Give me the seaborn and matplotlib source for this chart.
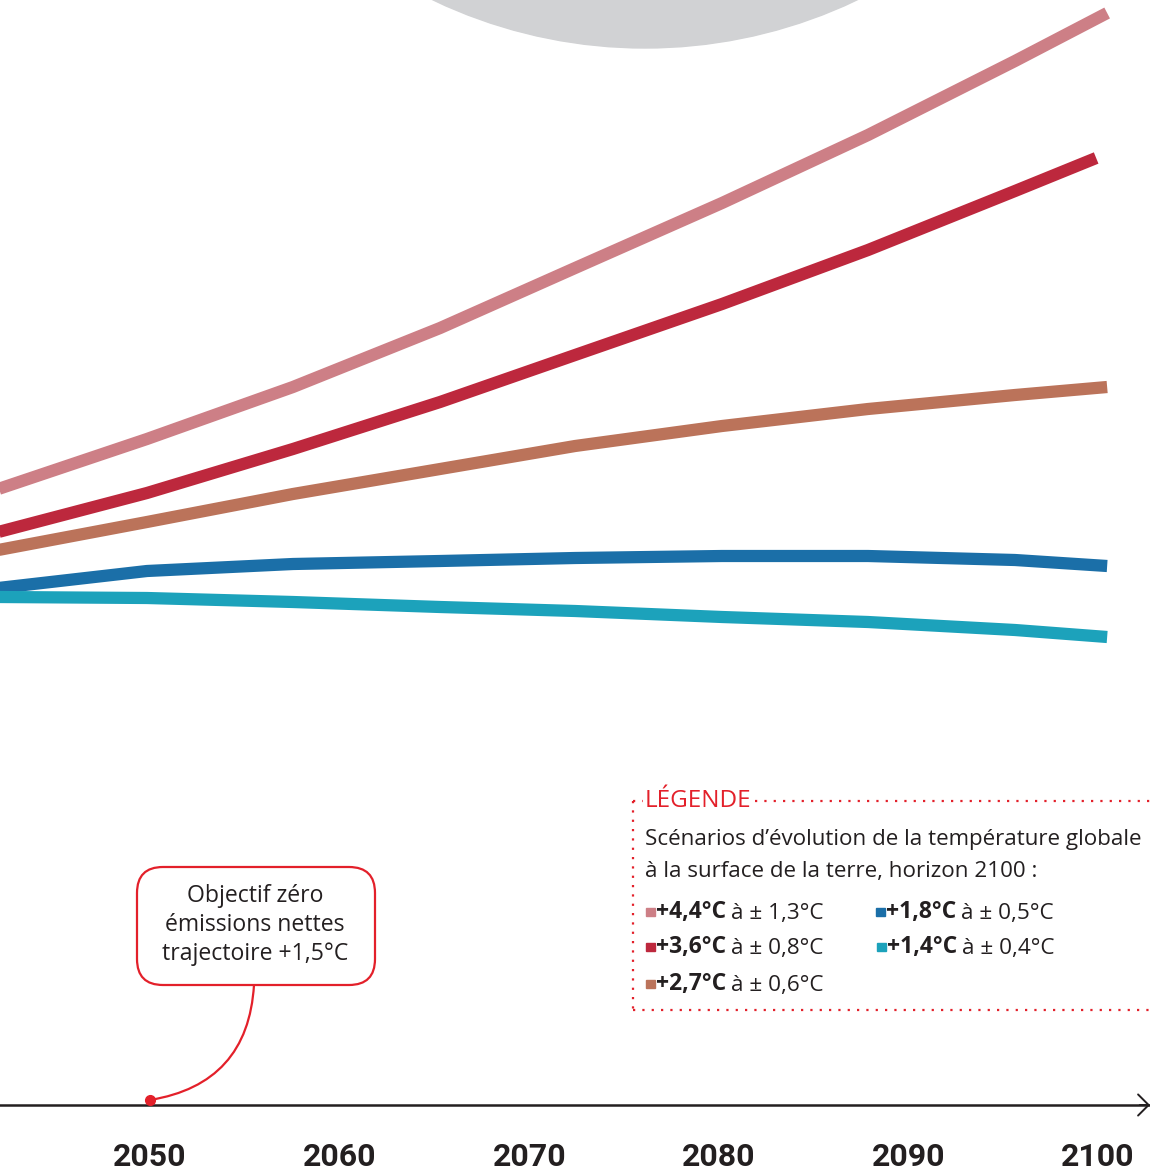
import numpy as np
import pandas as pd
import matplotlib
matplotlib.use("Agg")
import matplotlib.pyplot as plt
import seaborn as sns
from matplotlib.patches import Circle, FancyBboxPatch, Rectangle
from matplotlib.lines import Line2D
from matplotlib.transforms import Affine2D

# values: year, height of the curve above the time axis (arbitrary units)
years = [2042.0, 2049.84, 2057.54, 2065.30, 2072.42, 2080.17, 2087.87, 2095.62, 2100.48]
pink_vals = [6.16, 6.66, 7.18, 7.77, 8.37, 9.02, 9.70, 10.44, 10.92]
red_years = [2042.0, 2049.84, 2057.54, 2065.30, 2072.42, 2080.17, 2087.87, 2095.62, 2099.90]
red_vals = [5.73, 6.12, 6.56, 7.03, 7.50, 8.01, 8.55, 9.14, 9.47]
brown_vals = [5.55, 5.83, 6.11, 6.36, 6.59, 6.79, 6.96, 7.10, 7.18]
blue_vals = [5.17, 5.34, 5.41, 5.44, 5.47, 5.49, 5.49, 5.45, 5.39]
cyan_vals = [5.08, 5.07, 5.03, 4.98, 4.94, 4.88, 4.83, 4.75, 4.68]

scenarios = ["+4,4°C", "+3,6°C", "+2,7°C", "+1,8°C", "+1,4°C"]
ranges = ["à ± 1,3°C", "à ± 0,8°C", "à ± 0,6°C", "à ± 0,5°C", "à ± 0,4°C"]
colors = ["#cd7f86", "#bd283d", "#bb735a", "#1b6fa8", "#1ca2bb"]

tick_years = [2050, 2060, 2070, 2080, 2090, 2100]
target_year = 2050

TXT = "#231f20"
RED = "#e3202a"

sns.set_style("white")
plt.rcParams["font.family"] = ["Open Sans", "DejaVu Sans"]

df = pd.concat([
    pd.DataFrame({"year": y, "val": v, "scenario": s})
    for y, v, s in zip([years, red_years, years, years, years],
                       [pink_vals, red_vals, brown_vals, blue_vals, cyan_vals],
                       scenarios)
])

fig = plt.figure(figsize=(11.5, 11.72), dpi=100)
ax = fig.add_axes([0, 0, 1, 1])
# pixel coordinates (y down) for the decorative parts
pix = Affine2D().scale(1 / 1150, -1 / 1172).translate(0, 1) + fig.transFigure

ax.add_patch(Circle((645, -444), 492, transform=pix, color="#d1d2d4", zorder=0, clip_on=False))

sns.lineplot(data=df, x="year", y="val", hue="scenario", hue_order=scenarios,
             palette=dict(zip(scenarios, colors)), linewidth=8.8, sort=False,
             legend=False, ax=ax, solid_capstyle="butt", solid_joinstyle="round",
             estimator=None)

ax.set_xlim(2042.09, 2102.74)
ax.set_ylim(-0.67, 11.05)
ax.set_facecolor("none")
for s in ["left", "right", "top"]:
    ax.spines[s].set_visible(False)
ax.spines["bottom"].set_position(("data", 0))
ax.spines["bottom"].set_color(TXT)
ax.spines["bottom"].set_linewidth(1.8)
ax.set_yticks([])
ax.set_xticks(tick_years)
ax.set_xticklabels([str(t) for t in tick_years], fontfamily="Roboto", fontweight="bold",
                   fontsize=23, color=TXT)
ax.tick_params(axis="x", direction="out", length=19.5, width=1.1, color="#6d6e71", pad=7.5)
ax.set_xlabel("")
ax.set_ylabel("")

ax.annotate("", xy=(2102.74, 0), xytext=(2102.2, 0),
            arrowprops=dict(arrowstyle="->,head_length=0.38,head_width=0.38",
                            mutation_scale=20, color=TXT, lw=1.4, shrinkA=0, shrinkB=0),
            annotation_clip=False)

# callout
ax.annotate("", xy=(target_year, 0.05), xytext=(254, 985), textcoords=pix,
            arrowprops=dict(arrowstyle="-", connectionstyle="arc3,rad=-0.4",
                            color=RED, lw=1.6, shrinkA=0, shrinkB=0))
ax.add_patch(FancyBboxPatch((137, 867), 238, 118, transform=pix,
                            boxstyle="round,pad=0,rounding_size=26",
                            fc="white", ec=RED, lw=1.6, zorder=3, clip_on=False))
ax.text(255, 925, "Objectif zéro\némissions nettes\ntrajectoire +1,5°C", transform=pix,
        ha="center", va="center", multialignment="center", fontsize=16.6, color=TXT,
        linespacing=1.26, zorder=4)
ax.plot([target_year], [0.05], "o", color=RED, ms=7, zorder=5, clip_on=False)

# legend block
dot = (0, (1, 3.2))
for xs, ys in [((633, 643), (801, 801)), ((755, 1150), (801, 801)),
               ((633, 633), (801, 1010)), ((633, 1150), (1010, 1010))]:
    ax.add_line(Line2D(xs, ys, transform=pix, color=RED, lw=1.6, linestyle=dot, clip_on=False))
ax.text(645, 801, "LÉGENDE", transform=pix, ha="left", va="center", fontsize=17.5, color=RED)
ax.text(645, 840, "Scénarios d’évolution de la température globale", transform=pix,
        ha="left", va="center", fontsize=16.1, color=TXT)
ax.text(645, 872, "à la surface de la terre, horizon 2100 :", transform=pix,
        ha="left", va="center", fontsize=16.1, color=TXT)

slots = [(646, 912), (646, 947), (646, 984), (876, 912), (877, 947)]
for (x0, y0), s, r, c in zip(slots, scenarios, ranges, colors):
    ax.add_patch(Rectangle((x0, y0 - 4.5), 8.5, 8.5, transform=pix, color=c, clip_on=False))
    b = ax.text(x0 + 10, y0, s, transform=pix, ha="left", va="center", fontsize=16.5,
                fontweight="bold", color=TXT)
    ax.annotate(r, xy=(1, 0), xycoords=b, xytext=(3.5, 0), textcoords="offset points",
                ha="left", va="bottom", fontsize=16.2, color=TXT)

fig.savefig("out.png", dpi=100, facecolor="white")
